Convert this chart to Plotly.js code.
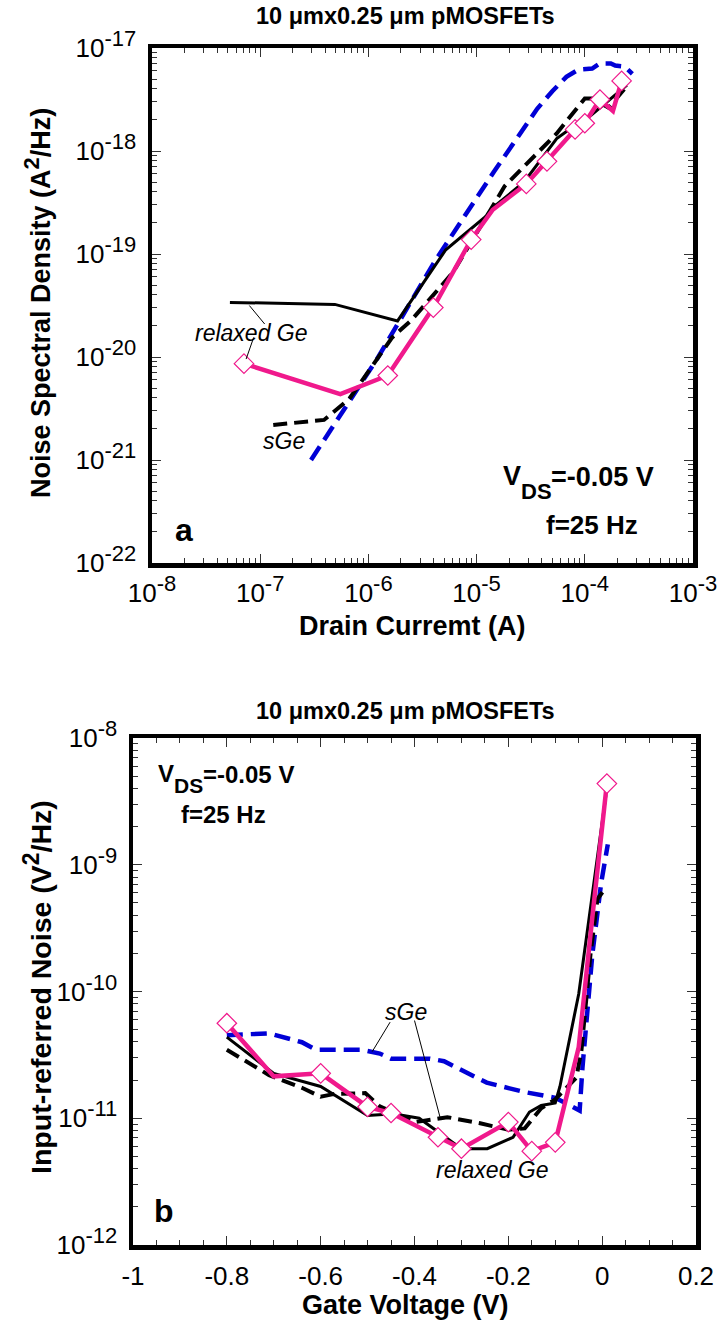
<!DOCTYPE html>
<html><head><meta charset="utf-8">
<script src="https://cdn.plot.ly/plotly-3.0.1.min.js"></script>
<style>html,body{margin:0;padding:0;background:#fff}#chart{width:722px;height:1331px}</style>
</head><body><div id="chart"></div>
<script>
// ===== Panel a: noise spectral density (A^2/Hz) vs drain current (A) =====
const aRelaxedBlackI = [5.25e-8, 4.9e-7, 1.86e-6, 5.19e-6, 1.20e-5, 1.45e-5, 2.75e-5, 5.5e-5, 8.13e-5, 1.15e-4, 2.45e-4];
const aRelaxedBlackS = [3.39e-20, 3.24e-20, 2.24e-20, 1.10e-19, 2.29e-19, 2.88e-19, 5.0e-19, 1.32e-18, 1.78e-18, 2.24e-18, 4.37e-18];

const aRelaxedPinkI = [7.08e-8, 5.5e-7, 1.51e-6, 3.98e-6, 8.91e-6, 1.41e-5, 2.88e-5, 4.47e-5, 8.13e-5, 1.0e-4, 1.38e-4, 1.82e-4, 2.19e-4];
const aRelaxedPinkS = [8.61e-21, 4.37e-21, 6.61e-21, 3.02e-20, 1.38e-19, 2.69e-19, 4.79e-19, 7.94e-19, 1.62e-18, 1.86e-18, 3.16e-18, 2.45e-18, 4.79e-18];
const aRelaxedPinkMarked = [1, 0, 1, 1, 1, 0, 1, 1, 1, 1, 1, 0, 1];

const aSGeBlackI = [1.32e-7, 3.89e-7, 6.61e-7, 1.66e-6, 2.51e-6, 6.03e-6, 1.82e-5, 4.07e-5, 5.5e-5, 1.0e-4, 1.17e-4, 1.66e-4, 2.4e-4];
const aSGeBlackS = [2.19e-21, 2.45e-21, 3.89e-21, 1.55e-20, 2.29e-20, 6.61e-20, 4.57e-19, 1.07e-18, 1.48e-18, 3.24e-18, 3.24e-18, 2.63e-18, 4.17e-18];

const aSGeBlueI = [2.95e-7, 1.20e-6, 4.17e-6, 1.45e-5, 3.63e-5, 5.01e-5, 6.76e-5, 8.71e-5, 1.17e-4, 1.38e-4, 1.74e-4, 1.91e-4, 2.34e-4, 2.75e-4];
const aSGeBlueS = [1e-21, 9.55e-21, 8.71e-20, 6.31e-19, 2.57e-18, 3.80e-18, 5.25e-18, 6.17e-18, 6.31e-18, 7.08e-18, 7.08e-18, 6.76e-18, 6.61e-18, 5.62e-18];

// leader lines of the "relaxed Ge" label (panel a)
const aLeader1I = [7.94e-8, 1.10e-7], aLeader1S = [3.16e-20, 2.09e-20];
const aLeader2I = [8.71e-8, 7.41e-8], aLeader2S = [1.55e-20, 9.55e-21];

const aXTickVals = [1e-8, 1e-7, 1e-6, 1e-5, 1e-4, 1e-3];
const aXTickExp  = ['-8', '-7', '-6', '-5', '-4', '-3'];
const aYTickVals = [1e-22, 1e-21, 1e-20, 1e-19, 1e-18, 1e-17];
const aYTickExp  = ['-22', '-21', '-20', '-19', '-18', '-17'];

// ===== Panel b: input-referred noise (V^2/Hz) vs gate voltage (V) =====
const bRelaxedPinkV = [-0.80, -0.70, -0.60, -0.50, -0.45, -0.35, -0.30, -0.20, -0.15, -0.10, -0.05, -0.022, 0.01];
const bRelaxedPinkN = [5.62e-11, 2.14e-11, 2.26e-11, 1.23e-11, 1.10e-11, 7.08e-12, 5.75e-12, 9.33e-12, 5.5e-12, 6.46e-12, 3.63e-11, 3.55e-10, 4.37e-9];
const bRelaxedPinkMarked = [1, 0, 1, 1, 1, 1, 1, 1, 1, 1, 0, 0, 1];

const bRelaxedBlackV = [-0.80, -0.70, -0.60, -0.50, -0.467, -0.436, -0.39, -0.352, -0.30, -0.245, -0.19, -0.155, -0.13, -0.10, -0.09, -0.05, 0.008];
const bRelaxedBlackN = [4.37e-11, 2.26e-11, 1.78e-11, 1.05e-11, 1.07e-11, 1.07e-11, 1.0e-11, 7.94e-12, 5.75e-12, 5.75e-12, 7.08e-12, 1.12e-11, 1.26e-11, 1.32e-11, 1.78e-11, 9.55e-11, 3.55e-9];

const bSGeBlackV = [-0.80, -0.71, -0.64, -0.60, -0.573, -0.505, -0.474, -0.398, -0.33, -0.26, -0.20, -0.165, -0.13, -0.10, -0.055, -0.044, -0.025, -0.01, 0.006];
const bSGeBlackN = [3.47e-11, 2.19e-11, 1.74e-11, 1.48e-11, 1.55e-11, 1.58e-11, 1.24e-11, 9.33e-12, 1.02e-11, 9.12e-12, 8.13e-12, 8.32e-12, 1.20e-11, 1.41e-11, 2.09e-11, 3.47e-11, 1.95e-10, 5.37e-10, 6.46e-10];

const bSGeBlueV = [-0.80, -0.71, -0.64, -0.61, -0.512, -0.474, -0.45, -0.367, -0.337, -0.306, -0.268, -0.246, -0.169, -0.10, -0.048, -0.042, -0.021, -0.002, 0.012];
const bSGeBlueN = [4.52e-11, 4.68e-11, 3.98e-11, 3.47e-11, 3.47e-11, 3.24e-11, 2.95e-11, 2.95e-11, 2.82e-11, 2.45e-11, 2.09e-11, 1.91e-11, 1.62e-11, 1.45e-11, 1.15e-11, 2.51e-11, 1.95e-10, 7.24e-10, 1.45e-9];

// leader lines of the "sGe" label (panel b)
const bLeader1V = [-0.452, -0.490], bLeader1N = [5.73e-11, 3.36e-11];
const bLeader2V = [-0.400, -0.345], bLeader2N = [5.9e-11, 1.0e-11];

const bXTickVals = [-1, -0.8, -0.6, -0.4, -0.2, 0, 0.2];
const bXTickText = ['-1', '-0.8', '-0.6', '-0.4', '-0.2', '0', '0.2'];
const bYTickVals = [1e-12, 1e-11, 1e-10, 1e-9, 1e-8];
const bYTickExp  = ['-12', '-11', '-10', '-9', '-8'];

const titleText = '10 \u03bcmx0.25 \u03bcm pMOSFETs';

// ===== styling / helpers =====
const W = 722, H = 1331;
const px = x => x / W, py = y => 1 - y / H;
const PINK = '#f0198c', BLUE = '#0000d6';
const FONT = 'Liberation Sans, Arial, Helvetica, sans-serif';
const bigSup = (t, s) => '<sup><span style="font-size:' + s + 'px">' + t + '</span></sup>';
const pow = e => '10' + bigSup(e, 22);
const logMinor = vals => { const out = []; for (let i = 0; i < vals.length - 1; i++) for (let d = 2; d <= 9; d++) out.push(vals[i] * d); return out; };
const linMinor = (vals, step) => { const out = []; for (let v = vals[0]; v <= vals[vals.length - 1] + 1e-9; v += step) out.push(Math.round(v * 1000) / 1000); return out; };
const pick = (arr, mask) => arr.filter((_, i) => mask[i]);

function axisBase(extra) {
  return Object.assign({
    showline: true, linewidth: 4.5, linecolor: '#000', mirror: 'allticks',
    ticks: 'inside', ticklen: 9, tickwidth: 1, tickcolor: '#333',
    showgrid: false, zeroline: false, fixedrange: true,
    tickfont: { family: FONT, size: 26, color: '#000' }
  }, extra);
}
function minorStyle(vals) {
  return { ticks: 'inside', ticklen: 5, tickwidth: 1, tickcolor: '#333', tickmode: 'array', tickvals: vals, showgrid: false };
}

const lineTrace = (x, y, xa, ya, color, width, dash) => ({
  x, y, xaxis: xa, yaxis: ya, type: 'scatter', mode: 'lines', hoverinfo: 'skip',
  line: { color, width, dash: dash || 'solid' }
});
const diamondTrace = (x, y, xa, ya) => ({
  x, y, xaxis: xa, yaxis: ya, type: 'scatter', mode: 'markers', hoverinfo: 'skip', cliponaxis: false,
  marker: { symbol: 'diamond', size: 15, color: '#fff', line: { color: PINK, width: 1.2 } }
});

const traces = [
  // panel a
  lineTrace(aSGeBlueI, aSGeBlueS, 'x', 'y', BLUE, 4.5, '16px,8px'),
  lineTrace(aSGeBlackI, aSGeBlackS, 'x', 'y', '#000', 4, '14px,7px'),
  lineTrace(aRelaxedBlackI, aRelaxedBlackS, 'x', 'y', '#000', 3),
  lineTrace(aRelaxedPinkI, aRelaxedPinkS, 'x', 'y', PINK, 4.5),
  diamondTrace(pick(aRelaxedPinkI, aRelaxedPinkMarked), pick(aRelaxedPinkS, aRelaxedPinkMarked), 'x', 'y'),
  lineTrace(aLeader1I, aLeader1S, 'x', 'y', '#000', 1),
  lineTrace(aLeader2I, aLeader2S, 'x', 'y', '#000', 1),
  // panel b
  lineTrace(bSGeBlueV, bSGeBlueN, 'x2', 'y2', BLUE, 4.5, '16px,8px'),
  lineTrace(bSGeBlackV, bSGeBlackN, 'x2', 'y2', '#000', 4, '14px,7px'),
  lineTrace(bRelaxedBlackV, bRelaxedBlackN, 'x2', 'y2', '#000', 3),
  lineTrace(bRelaxedPinkV, bRelaxedPinkN, 'x2', 'y2', PINK, 4.5),
  diamondTrace(pick(bRelaxedPinkV, bRelaxedPinkMarked), pick(bRelaxedPinkN, bRelaxedPinkMarked), 'x2', 'y2'),
  lineTrace(bLeader1V, bLeader1N, 'x2', 'y2', '#000', 1),
  lineTrace(bLeader2V, bLeader2N, 'x2', 'y2', '#000', 1)
];

const ann = (text, x, y, size, opt) => Object.assign({
  text, x: px(x), y: py(y), xref: 'paper', yref: 'paper', showarrow: false,
  xanchor: 'center', yanchor: 'middle',
  font: { family: FONT, size, color: '#000', weight: 'bold' }
}, opt || {});
const dataAnn = (text, x, y, xa, ya, size, bold, italic) => ({
  text, x, y, xref: xa, yref: ya, showarrow: false, xanchor: 'center', yanchor: 'middle',
  font: { family: FONT, size, color: '#000', weight: bold ? 'bold' : 'normal', style: italic ? 'italic' : 'normal' }
});

const annotations = [
  // titles
  ann(titleText, 406, 16, 23.5),
  ann(titleText, 406, 711, 23.5),
  ann('Drain Curremt (A)', 412, 626, 27),
  ann('Gate Voltage (V)', 405, 1305, 27),
  ann('Noise Spectral Density (A' + bigSup('2', 22) + '/Hz)', 37, 303, 27, { textangle: -90 }),
  ann('Input-referred Noise (V' + bigSup('2', 23) + '/Hz)', 37, 987, 28.5, { textangle: -90 }),
  // panel a labels
  dataAnn('relaxed Ge', -7.076, -19.77, 'x', 'y', 23, false, true),
  dataAnn('sGe', -6.784, -20.817, 'x', 'y', 23, false, true),
  ann('V', 501, 476, 27, { xanchor: 'left' }),
  ann('DS', 519, 491, 22, { xanchor: 'left' }),
  ann('=-0.05 V', 549, 477, 27, { xanchor: 'left' }),
  ann('f=25 Hz', 592, 525, 26),
  dataAnn('a', -7.706, -21.676, 'x', 'y', 32, true),
  // panel b labels
  dataAnn('sGe', -0.418, -10.164, 'x2', 'y2', 23, false, true),
  dataAnn('relaxed Ge', -0.2341, -11.407, 'x2', 'y2', 23, false, true),
  dataAnn('b', -0.9333, -11.735, 'x2', 'y2', 32, true),
  ann('V', 156, 773, 24, { xanchor: 'left' }),
  ann('DS', 172, 786, 21, { xanchor: 'left' }),
  ann('=-0.05 V', 201, 774, 24, { xanchor: 'left' }),
  ann('f=25 Hz', 223, 814, 24)
];

const layout = {
  width: W, height: H, margin: { l: 0, r: 0, t: 0, b: 0 },
  paper_bgcolor: '#fff', plot_bgcolor: 'rgba(0,0,0,0)', showlegend: false,
  font: { family: FONT, color: '#000' },
  xaxis: axisBase({ type: 'log', domain: [px(152), px(693)], range: [-8, -3], anchor: 'y',
    tickmode: 'array', tickvals: aXTickVals, ticktext: aXTickExp.map(pow), ticklabelstandoff: 3,
    minor: minorStyle(logMinor(aXTickVals)) }),
  yaxis: axisBase({ type: 'log', domain: [py(563), py(48)], range: [-22, -17], anchor: 'x',
    tickmode: 'array', tickvals: aYTickVals, ticktext: aYTickExp.map(pow), ticklabelstandoff: 6,
    minor: minorStyle(logMinor(aYTickVals)) }),
  xaxis2: axisBase({ type: 'linear', domain: [px(133), px(696)], range: [-1, 0.2], anchor: 'y2',
    tickmode: 'array', tickvals: bXTickVals, ticktext: bXTickText, ticklabelstandoff: 4,
    minor: minorStyle(linMinor(bXTickVals, 0.05)) }),
  yaxis2: axisBase({ type: 'log', domain: [py(1245), py(738)], range: [-12, -8], anchor: 'x2',
    tickmode: 'array', tickvals: bYTickVals, ticktext: bYTickExp.map(pow), ticklabelstandoff: 6,
    minor: minorStyle(logMinor(bYTickVals)) }),
  annotations
};

Plotly.newPlot('chart', traces, layout, { displayModeBar: false, staticPlot: true });
</script>
</body></html>
